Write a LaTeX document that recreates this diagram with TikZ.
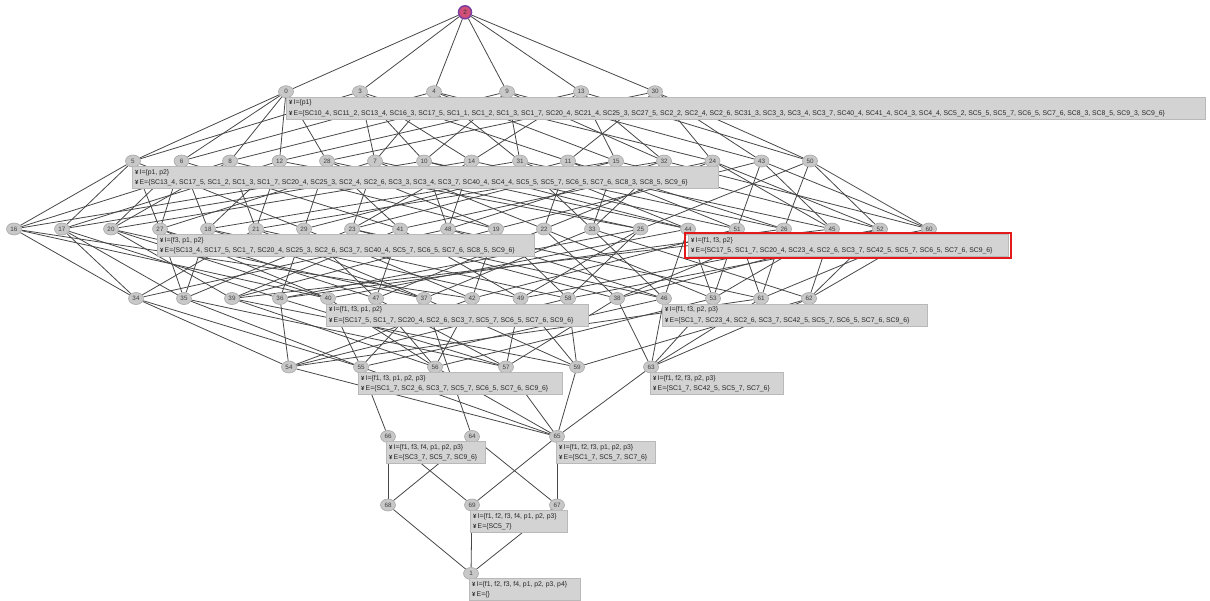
\documentclass[tikz,border=0pt]{standalone}
\usepackage{fontspec}
\setmainfont{Liberation Sans}
\usetikzlibrary{shapes.geometric,backgrounds}
\definecolor{rootfill}{HTML}{D24F78}
\definecolor{rootdraw}{HTML}{7B3F9E}
\definecolor{hlred}{HTML}{E31A1C}
\definecolor{boxgray}{HTML}{D3D3D3}
\definecolor{nodegray}{HTML}{C8C8C8}
\newcommand\labfont{\fontsize{6.85}{8}\selectfont}
\newcommand\licon{{\bfseries\fontsize{6}{6}\selectfont ¥}\,}
\newcommand\tryedge[4]{%
  \edef\ddiff{\number\numexpr#4-#2\relax}%
  \def\edgeok{0}%
  \ifnum\ddiff=1 \def\edgeok{1}\fi
  \ifnum\ddiff=10 \def\edgeok{1}\fi
  \ifnum\ddiff=100 \def\edgeok{1}\fi
  \ifnum\ddiff=1000 \def\edgeok{1}\fi
  \ifnum\ddiff=10000 \def\edgeok{1}\fi
  \ifnum\ddiff=100000 \def\edgeok{1}\fi
  \ifnum\edgeok=1 \draw[conn] (#1) -- (#3);\fi
}
\newcommand\mklab[7]{%
  \fill[boxfill] (#2,#3) rectangle (#4,#5);
  \node[ltxt] (#1a) at (#2+3,#3+6) {\licon #6};
  \node[ltxt] (#1b) at (#2+3,#3+16.5) {\licon #7};
}
\def\LA{2/000000}
\def\LB{0/100000,3/010000,4/001000,9/000100,13/000010,30/000001}
\def\LC{5/110000,6/101000,8/100100,12/100010,28/100001,7/011000,10/010100,14/010010,31/001100,11/010001,15/001010,32/000110,24/001001,43/000101,50/000011}
\def\LD{16/110100,17/110010,20/101100,27/111000,18/101010,21/100110,29/110001,23/011010,41/101001,48/010110,19/100101,22/011001,33/001110,25/100011,44/011100,51/010101,26/010011,45/001101,52/001011,60/000111}
\def\LE{34/110110,35/111010,39/101101,36/110011,40/111100,47/111001,37/101110,42/110101,49/101011,58/100111,38/011011,46/011110,53/011101,61/010111,62/001111}
\def\LF{54/110111,55/111110,56/111101,57/111011,59/101111,63/011111}
\def\LG{65/111111}
\begin{document}
\begin{tikzpicture}[x=1pt,y=-1pt,
  vert/.style={ellipse, fill=nodegray, draw=gray!70, line width=0.6pt, inner sep=0.5pt,
    minimum height=12pt, minimum width=15pt, font=\fontsize{6.3}{6.3}\selectfont, text=black!75},
  rootnode/.style={circle, fill=rootfill, draw=rootdraw, line width=1.5pt, inner sep=0pt,
    minimum size=13pt, font=\fontsize{6.3}{6.3}\selectfont, text=black!80},
  conn/.style={draw=black!72, line width=0.8pt},
  boxfill/.style={fill=boxgray, draw=gray!55, line width=0.4pt},
  ltxt/.style={anchor=west, inner sep=0pt, font=\labfont, text=black!85},
  hlbox/.style={draw=hlred, line width=2.6pt}]
\useasboundingbox (0,0) rectangle (1210,600);
% nodes
\node[rootnode] (2) at (465,12.3) {2};
\foreach \n/\x in {0/286,3/360,4/434,9/507,13/581,30/655}
  \node[vert] (\n) at (\x,91.7) {\n};
\foreach \n/\x in {5/133,6/181.5,8/230,12/279.5,28/327,7/375,10/424,14/471.5,31/520,11/568,15/616,32/664,24/712.5,43/761.5,50/810}
  \node[vert] (\n) at (\x,161) {\n};
\foreach \n/\x in {16/14,17/62,20/111,27/160,18/208,21/256,29/304,23/352,41/400,48/448,19/496,22/544,33/592,25/640.5,44/688,51/737,26/784,45/832,52/880,60/929}
  \node[vert] (\n) at (\x,229) {\n};
\foreach \n/\x in {34/136,35/184,39/232,36/280,40/328,47/376,37/424,42/472,49/520.5,58/568,38/617,46/664,53/713,61/761,62/809}
  \node[vert] (\n) at (\x,298.5) {\n};
\foreach \n/\x in {54/289,55/361,56/435,57/506,59/577,63/651}
  \node[vert] (\n) at (\x,367) {\n};
\foreach \n/\x in {66/388,64/472,65/557}
  \node[vert] (\n) at (\x,436.5) {\n};
\foreach \n/\x in {68/388,69/472,67/557}
  \node[vert] (\n) at (\x,505) {\n};
\node[vert] (1) at (471,573.5) {1};
% connectors
\begin{pgfonlayer}{background}
\foreach \a/\ac in \LA {\foreach \b/\bc in \LB {\tryedge{\a}{\ac}{\b}{\bc}}}
\foreach \a/\ac in \LB {\foreach \b/\bc in \LC {\tryedge{\a}{\ac}{\b}{\bc}}}
\foreach \a/\ac in \LC {\foreach \b/\bc in \LD {\tryedge{\a}{\ac}{\b}{\bc}}}
\foreach \a/\ac in \LD {\foreach \b/\bc in \LE {\tryedge{\a}{\ac}{\b}{\bc}}}
\foreach \a/\ac in \LE {\foreach \b/\bc in \LF {\tryedge{\a}{\ac}{\b}{\bc}}}
\foreach \a/\ac in \LF {\foreach \b/\bc in \LG {\tryedge{\a}{\ac}{\b}{\bc}}}
\foreach \a/\b in {55/66,37/64,66/68,66/69,64/68,64/67,65/69,65/67,68/1,69/1,67/1}
  \draw[conn] (\a) -- (\b);
\end{pgfonlayer}
% labels
\mklab{l0}{286}{97}{1205}{119}{I=\{p1\}}{E=\{SC10\_4, SC11\_2, SC13\_4, SC16\_3, SC17\_5, SC1\_1, SC1\_2, SC1\_3, SC1\_7, SC20\_4, SC21\_4, SC25\_3, SC27\_5, SC2\_2, SC2\_4, SC2\_6, SC31\_3, SC3\_3, SC3\_4, SC3\_7, SC40\_4, SC41\_4, SC4\_3, SC4\_4, SC5\_2, SC5\_5, SC5\_7, SC6\_5, SC7\_6, SC8\_3, SC8\_5, SC9\_3, SC9\_6\}}
\mklab{l5}{132}{166.5}{718}{188.5}{I=\{p1, p2\}}{E=\{SC13\_4, SC17\_5, SC1\_2, SC1\_3, SC1\_7, SC20\_4, SC25\_3, SC2\_4, SC2\_6, SC3\_3, SC3\_4, SC3\_7, SC40\_4, SC4\_4, SC5\_5, SC5\_7, SC6\_5, SC7\_6, SC8\_3, SC8\_5, SC9\_6\}}
\mklab{l27}{157}{234.5}{534}{256.5}{I=\{f3, p1, p2\}}{E=\{SC13\_4, SC17\_5, SC1\_7, SC20\_4, SC25\_3, SC2\_6, SC3\_7, SC40\_4, SC5\_7, SC6\_5, SC7\_6, SC8\_5, SC9\_6\}}
\mklab{l44}{688}{234.5}{1008}{256}{I=\{f1, f3, p2\}}{E=\{SC17\_5, SC1\_7, SC20\_4, SC23\_4, SC2\_6, SC3\_7, SC42\_5, SC5\_7, SC6\_5, SC7\_6, SC9\_6\}}
\draw[hlbox] (685,233) rectangle (1011,258);
\mklab{l40}{326}{304}{588}{326}{I=\{f1, f3, p1, p2\}}{E=\{SC17\_5, SC1\_7, SC20\_4, SC2\_6, SC3\_7, SC5\_7, SC6\_5, SC7\_6, SC9\_6\}}
\mklab{l46}{662}{304}{927}{326}{I=\{f1, f3, p2, p3\}}{E=\{SC1\_7, SC23\_4, SC2\_6, SC3\_7, SC42\_5, SC5\_7, SC6\_5, SC7\_6, SC9\_6\}}
\mklab{l55}{358}{372.5}{562}{394.5}{I=\{f1, f3, p1, p2, p3\}}{E=\{SC1\_7, SC2\_6, SC3\_7, SC5\_7, SC6\_5, SC7\_6, SC9\_6\}}
\mklab{l63}{650}{372.5}{783}{394.5}{I=\{f1, f2, f3, p2, p3\}}{E=\{SC1\_7, SC42\_5, SC5\_7, SC7\_6\}}
\mklab{l66}{386}{441.5}{485}{463.5}{I=\{f1, f3, f4, p1, p2, p3\}}{E=\{SC3\_7, SC5\_7, SC9\_6\}}
\mklab{l65}{556}{441.5}{655}{463.5}{I=\{f1, f2, f3, p1, p2, p3\}}{E=\{SC1\_7, SC5\_7, SC7\_6\}}
\mklab{l69}{470}{510.5}{567}{532.5}{I=\{f1, f2, f3, f4, p1, p2, p3\}}{E=\{SC5\_7\}}
\mklab{l1}{469}{578.5}{580}{600}{I=\{f1, f2, f3, f4, p1, p2, p3, p4\}}{E=\{\}}
\end{tikzpicture}
\end{document}
